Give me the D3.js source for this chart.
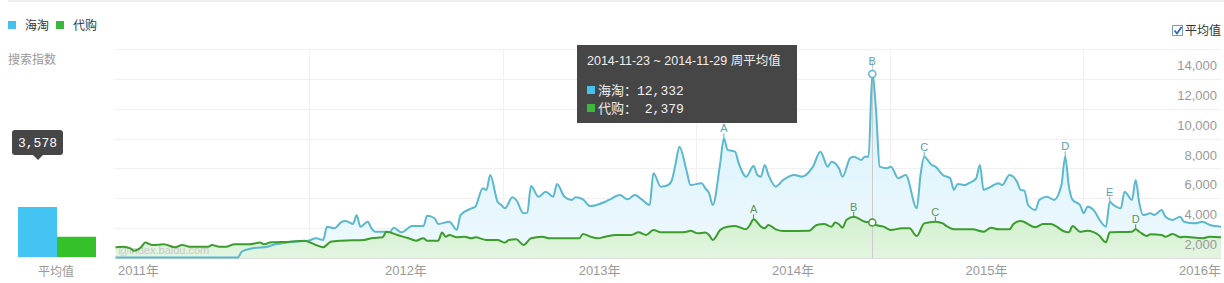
<!DOCTYPE html>
<html>
<head>
<meta charset="utf-8">
<script src="https://cdn.jsdelivr.net/npm/d3@7"></script>
<style>
  body { margin: 0; background: #fff; }
  svg { display: block; font-family: "Liberation Sans", "Noto Sans CJK SC", sans-serif; }
</style>
</head>
<body>
<div id="chart"></div>
<script>
// series names + legend colors
var seriesNames = ["海淘", "代购"];
var legendColors = ["#45c1ee", "#3cb83c"];

// weekly points: [week index from 2010-12-26, value]
var haitaoPoints = [[0,40],[33,40],[34,420],[37,650],[41,760],[43,920],[45,980],[48,1090],[52,1160],[54,1320],[56,1210],[57,2100],[59,1990],[61,2430],[62,2480],[64,2280],[65,2860],[66,2100],[68,2430],[69,1990],[70,1760],[73,1760],[74,1740],[75,2030],[77,1720],[80,2140],[83,2140],[84,2830],[86,2660],[87,2280],[90,2430],[92,1880],[93,2880],[96,3330],[97,3440],[99,4670],[100,4560],[101,5560],[103,3770],[104,3550],[105,3330],[107,4070],[108,3890],[110,2990],[111,3040],[112,4820],[114,4110],[116,4440],[118,4110],[119,4960],[121,4110],[123,3890],[124,4070],[126,3930],[128,3480],[132,3770],[133,3890],[136,4220],[138,3930],[140,4220],[142,3890],[144,3550],[145,5670],[147,4780],[149,4890],[150,5230],[151,6340],[152,7460],[154,5780],[155,4890],[158,5010],[159,4670],[160,4340],[161,3550],[163,6340],[164,8020],[165,7240],[167,7120],[168,6340],[170,5450],[172,6160],[173,5560],[174,5450],[175,6230],[176,5560],[178,4780],[180,5230],[183,5560],[185,5450],[188,6120],[190,7120],[192,6120],[193,6450],[195,6010],[196,5450],[198,6680],[199,6790],[201,6570],[202,6790],[203,6790],[204,12332],[205,9920],[206,6120],[208,6010],[209,6120],[211,5340],[213,5560],[216,3330],[217,5560],[218,6790],[220,6230],[221,6120],[223,5560],[225,5340],[226,4560],[227,4960],[229,4890],[230,5010],[232,5340],[233,6230],[234,4560],[236,4780],[238,5010],[239,4890],[241,5560],[243,5110],[244,4560],[245,4510],[246,3550],[248,3220],[249,3890],[251,4110],[253,3890],[255,4900],[256,6800],[257,4780],[258,3890],[260,3550],[261,2990],[262,3440],[264,3100],[265,2660],[267,2100],[268,3770],[269,3550],[271,3330],[272,4440],[274,3890],[275,5230],[276,3640],[277,2880],[279,2990],[280,2880],[282,3220],[283,2770],[285,2550],[287,2770],[288,2430],[291,2320],[293,2430],[295,2210],[298,2100]];

var daigouPoints = [[0,720],[2,760],[4,650],[5,490],[7,760],[8,1030],[10,870],[13,920],[16,720],[18,870],[20,760],[25,760],[26,870],[28,760],[30,760],[32,920],[36,920],[39,1030],[40,920],[42,1050],[47,1090],[51,1160],[52,1090],[54,870],[56,720],[58,1090],[61,1160],[67,1210],[69,1320],[72,1390],[73,1760],[76,1540],[79,1320],[81,1160],[83,1320],[84,1160],[87,1160],[88,1700],[89,1430],[90,1540],[92,1390],[94,1430],[96,1320],[97,1390],[100,1210],[103,1210],[105,1030],[106,1210],[108,1250],[110,870],[112,1320],[115,1430],[117,1320],[125,1320],[126,1610],[128,1430],[130,1320],[132,1430],[135,1540],[139,1540],[141,1720],[143,1540],[145,1880],[147,1720],[152,1720],[154,1760],[155,1830],[157,1650],[159,1700],[160,1540],[161,1210],[163,1880],[165,2100],[167,2140],[170,1920],[171,2210],[172,2590],[174,2100],[175,1990],[176,2210],[178,1920],[180,1810],[187,1830],[189,2210],[191,2280],[193,2100],[194,2370],[195,2260],[196,2030],[197,2550],[199,2770],[202,2430],[204,2379],[205,2210],[207,2100],[209,1880],[212,1990],[214,1990],[216,1470],[218,2320],[221,2430],[223,2320],[224,2140],[226,1920],[231,1920],[234,1760],[236,2030],[238,1920],[241,1920],[242,2260],[244,2480],[248,2060],[250,2280],[252,2280],[256,1760],[257,1720],[258,2140],[260,1760],[262,1830],[265,1540],[267,1050],[268,1720],[274,1760],[275,1920],[276,1760],[278,1470],[279,1590],[282,1540],[283,1430],[285,1610],[287,1390],[288,1430],[293,1320],[295,1430],[298,1390]];

// event markers [letter, week]
var haitaoMarks = [["A",164],["B",204],["C",218],["D",256],["E",268]];
var daigouMarks = [["A",172],["B",199],["C",221],["D",275]];

var averages = [3578, 1450];
var yTicks = [2000, 4000, 6000, 8000, 10000, 12000, 14000];
var yearLabels = ["2011年", "2012年", "2013年", "2014年", "2015年", "2016年"];
var hoverWeek = 204;

var W = 1224, H = 283;
var week0 = new Date(2010, 11, 26);
function weekStart(k) { return d3.timeDay.offset(week0, 7 * k); }
function weekEnd(k) { return d3.timeDay.offset(week0, 7 * k + 6); }

var svg = d3.select("#chart").append("svg")
    .attr("width", W)
    .attr("height", H);

var x = d3.scaleTime()
    .domain([weekEnd(0), weekEnd(298)])
    .range([115.5, 1221]);
var y = d3.scaleLinear()
    .domain([0, 14000])
    .range([258, 49]);

// top border
svg.append("line").attr("x1", 8).attr("x2", W).attr("y1", 1).attr("y2", 1)
    .attr("stroke", "#ddd");

// legend
seriesNames.forEach(function(n, i) {
  var lx = 8 + i * 48;
  svg.append("rect").attr("x", lx).attr("y", 21).attr("width", 8).attr("height", 8)
      .attr("fill", legendColors[i]);
  svg.append("text").attr("x", lx + 17).attr("y", 30).attr("font-size", 12)
      .attr("fill", "#333").text(n);
});

svg.append("text").attr("x", 8).attr("y", 64).attr("font-size", 12)
    .attr("fill", "#999").text("搜索指数");

// checkbox top right
svg.append("rect").attr("x", 1172.5).attr("y", 25.5).attr("width", 10).attr("height", 10)
    .attr("fill", "#fff").attr("stroke", "#7a9cc6");
svg.append("path").attr("d", "M1174.5,30.5 L1177,33.5 L1181.5,27")
    .attr("fill", "none").attr("stroke", "#2f6db8").attr("stroke-width", 1.8);
svg.append("text").attr("x", 1185).attr("y", 35).attr("font-size", 12)
    .attr("fill", "#333").text("平均值");

// grid
var grid = svg.append("g");
grid.selectAll("line.h")
    .data([0].concat(yTicks))
    .enter().append("line")
    .attr("x1", 115).attr("x2", 1221)
    .attr("y1", function(d) { return Math.round(y(d)) + 0.5; })
    .attr("y2", function(d) { return Math.round(y(d)) + 0.5; })
    .attr("stroke", function(d) { return d === 0 ? "#ddd" : "#f0f0f0"; });

var years = d3.timeYear.range(new Date(2012, 0, 1), new Date(2016, 0, 2));
grid.selectAll("line.v")
    .data(years)
    .enter().append("line")
    .attr("x1", function(d) { return Math.round(x(d)) + 0.5; })
    .attr("x2", function(d) { return Math.round(x(d)) + 0.5; })
    .attr("y1", 49).attr("y2", 258)
    .attr("stroke", "#f0f0f0");

// areas and lines
var curve = d3.curveMonotoneX;
function px(d) { return x(weekEnd(d[0])); }

var defs = svg.append("defs");
var g1 = defs.append("linearGradient").attr("id", "gBlue").attr("x1", 0).attr("x2", 0).attr("y1", 0).attr("y2", 1);
g1.append("stop").attr("offset", "0%").attr("stop-color", "#d6f1fb");
g1.append("stop").attr("offset", "100%").attr("stop-color", "#eef9fd");
var g2 = defs.append("linearGradient").attr("id", "gGreen").attr("x1", 0).attr("x2", 0).attr("y1", 0).attr("y2", 1);
g2.append("stop").attr("offset", "0%").attr("stop-color", "#d2f0cf");
g2.append("stop").attr("offset", "100%").attr("stop-color", "#e3f5e1");

var area = d3.area().x(px).y0(y(0)).y1(function(d) { return y(d[1]); }).curve(curve);
var line = d3.line().x(px).y(function(d) { return y(d[1]); }).curve(curve);

svg.append("path").datum(haitaoPoints).attr("d", area).attr("fill", "url(#gBlue)");
svg.append("path").datum(daigouPoints).attr("d", area).attr("fill", "url(#gGreen)");

// watermark
svg.append("text").attr("x", 118).attr("y", 254).attr("font-size", 11)
    .attr("fill", "#c8c8c8").text("@index.baidu.com");

// hover line
svg.append("line")
    .attr("x1", Math.round(x(weekEnd(hoverWeek))) + 0.5)
    .attr("x2", Math.round(x(weekEnd(hoverWeek))) + 0.5)
    .attr("y1", 62).attr("y2", 258)
    .attr("stroke", "#ccc");

svg.append("path").datum(haitaoPoints).attr("d", line)
    .attr("fill", "none").attr("stroke", "#5bb8cf").attr("stroke-width", 2);
svg.append("path").datum(daigouPoints).attr("d", line)
    .attr("fill", "none").attr("stroke", "#3c9c2c").attr("stroke-width", 2);

// event markers
function drawMarks(marks, pts, color, lineColor) {
  marks.forEach(function(m) {
    var p = pts.filter(function(d) { return d[0] === m[1]; })[0];
    var mx = px(p), my = y(p[1]);
    if (m[1] !== hoverWeek) {
      svg.append("line").attr("x1", mx).attr("x2", mx).attr("y1", my - 5).attr("y2", my)
          .attr("stroke", lineColor).attr("stroke-width", 1);
    }
    svg.append("text").attr("x", mx).attr("y", my - (m[1] === hoverWeek ? 9 : 6))
        .attr("text-anchor", "middle").attr("font-size", 11)
        .attr("fill", color).text(m[0]);
  });
}
drawMarks(haitaoMarks, haitaoPoints, "#5a9fb4", "#5bb8cf");
drawMarks(daigouMarks, daigouPoints, "#5e9460", "#3c9c2c");

// hover circles
[[haitaoPoints, "#5bb8cf"], [daigouPoints, "#3c9c2c"]].forEach(function(s) {
  var p = s[0].filter(function(d) { return d[0] === hoverWeek; })[0];
  svg.append("circle").attr("cx", px(p)).attr("cy", y(p[1])).attr("r", 3.5)
      .attr("fill", "#fff").attr("stroke", s[1]).attr("stroke-width", 1.5);
});

// y labels
svg.selectAll("text.ytick")
    .data(yTicks)
    .enter().append("text")
    .attr("x", 1217).attr("y", function(d) { return y(d) + 21; })
    .attr("text-anchor", "end").attr("font-size", 13).attr("fill", "#999")
    .text(d3.format(","));

// year labels: centred in each year, first/last kept inside
yearLabels.forEach(function(t, i) {
  var s = new Date(2011 + i, 0, 1), e = new Date(2012 + i, 0, 1);
  var lx = (x(s) + x(e)) / 2, anchor = "middle";
  if (i === 0) { lx = 118; anchor = "start"; }
  if (i === yearLabels.length - 1) { lx = 1221; anchor = "end"; }
  svg.append("text").attr("x", lx).attr("y", 275).attr("text-anchor", anchor)
      .attr("font-size", 13).attr("fill", "#999").text(t);
});

// tooltip
var fmt = d3.timeFormat("%Y-%m-%d");
var hv = haitaoPoints.filter(function(d) { return d[0] === hoverWeek; })[0][1];
var dv = daigouPoints.filter(function(d) { return d[0] === hoverWeek; })[0][1];
var tip = svg.append("g").attr("transform", "translate(577,45)");
tip.append("rect").attr("width", 220).attr("height", 78).attr("fill", "#474647");
tip.append("text").attr("x", 10).attr("y", 20).attr("font-size", 12.5).attr("fill", "#eee")
    .text(fmt(weekStart(hoverWeek)) + " ~ " + fmt(weekEnd(hoverWeek)) + " 周平均值");
[[hv, legendColors[0], "海淘："], [dv, legendColors[1], "代购："]].forEach(function(r, i) {
  var ty = 45 + i * 18;
  tip.append("rect").attr("x", 10).attr("y", ty - 4).attr("width", 8).attr("height", 8).attr("fill", r[1]);
  var t = tip.append("text").attr("x", 21).attr("y", ty + 5).attr("font-size", 13).attr("fill", "#eee");
  t.append("tspan").text(r[2]);
  t.append("tspan").attr("font-family", "Liberation Mono, monospace")
      .attr("xml:space", "preserve").style("white-space", "pre")
      .text(d3.format(",")(r[0]).padStart(6, " "));
});

// left average bars
var by = d3.scaleLinear().domain([0, averages[0]]).range([257, 207]);
svg.selectAll("rect.avg")
    .data(averages)
    .enter().append("rect")
    .attr("x", function(d, i) { return 18 + i * 39; })
    .attr("y", function(d) { return by(d); })
    .attr("width", 39)
    .attr("height", function(d) { return 257 - by(d); })
    .attr("fill", function(d, i) { return i === 0 ? "#44c4f2" : "#35c12a"; });
svg.append("text").attr("x", 56).attr("y", 276).attr("text-anchor", "middle")
    .attr("font-size", 12).attr("fill", "#999").text("平均值");

var bt = svg.append("g");
bt.append("rect").attr("x", 12).attr("y", 130).attr("width", 51).attr("height", 25).attr("rx", 3)
    .attr("fill", "#474647");
bt.append("path").attr("d", "M33,155 L38,160 L43,155 Z").attr("fill", "#474647");
bt.append("text").attr("x", 37.5).attr("y", 147).attr("text-anchor", "middle")
    .attr("font-size", 13).attr("font-family", "Liberation Mono, monospace")
    .attr("fill", "#fff").text(d3.format(",")(averages[0]));
</script>
</body>
</html>
